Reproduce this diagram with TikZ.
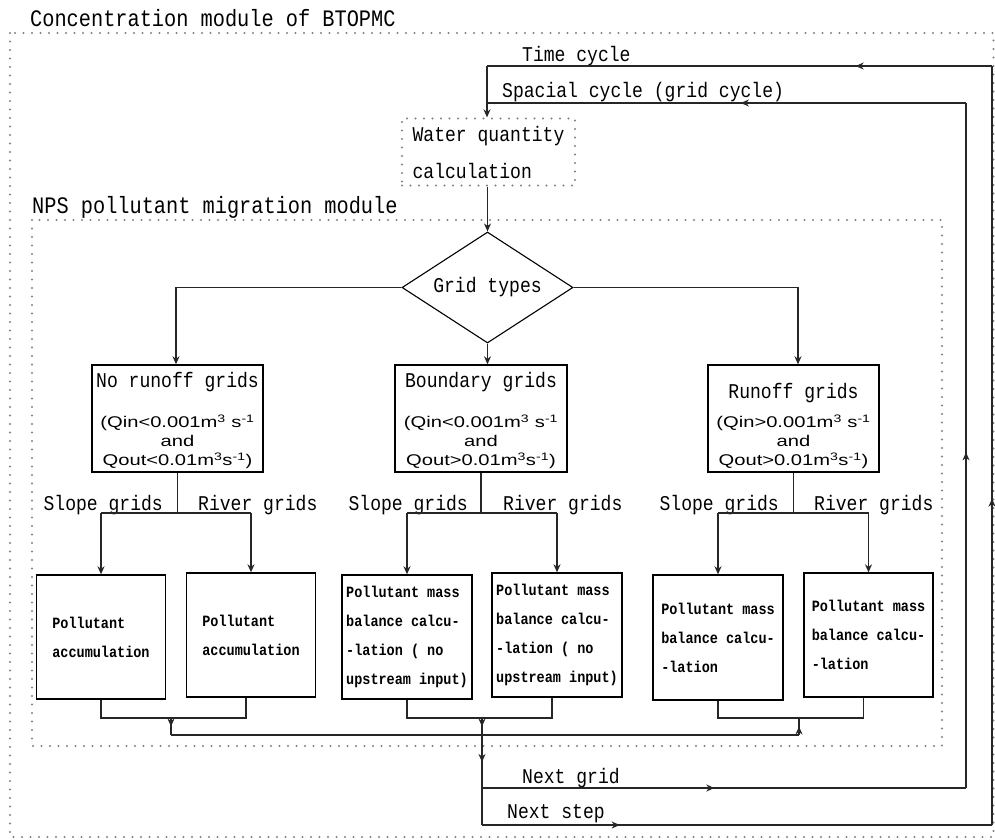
\documentclass[tikz,border=0pt]{standalone}
\usepackage{fontspec}
\newfontfamily\monof[FakeStretch=0.86]{Liberation Mono}
\newfontfamily\sansf[FakeStretch=1.3]{Liberation Sans}
\usepackage{tikz}
\usetikzlibrary{arrows.meta,shapes.geometric,decorations.markings}

\begin{document}
\begin{tikzpicture}[x=1pt,y=-1pt,>={Stealth[length=8pt,width=7pt,inset=2.5pt]},
  conn/.style={line width=1.3pt,draw=black!85},arr/.style={conn,->},
  midarr/.style={conn,postaction={decorate},decoration={markings,mark=at position #1 with {\arrow{>}}}},midarr/.default=0.5,
  dotbox/.style={draw=black!50,line width=2.3pt,dash pattern=on 0pt off 8.5pt,line cap=round},
  lbl/.style={font=\monof\fontsize{21}{21}\selectfont,inner sep=0pt},
  modlbl/.style={font=\monof\fontsize{23.6}{24}\selectfont,inner sep=0pt},
  gbox/.style={draw,line width=1.4pt,minimum width=171pt,minimum height=107pt,align=center,inner sep=2pt,font=\sansf\fontsize{15.5}{19}\selectfont},
  pbox/.style={draw,line width=1.4pt,minimum width=129pt,minimum height=124pt,align=left,inner sep=3pt,font=\monof\bfseries\fontsize{15.7}{29}\selectfont}]
\useasboundingbox (0,0) rectangle (995,839);
\draw[dotbox] (10,33) rectangle (993.5,837);
\draw[dotbox] (32,220) rectangle (942,746);
\node[modlbl,anchor=base west] (conctl) at (30,26) {Concentration module of BTOPMC};
\node[modlbl,anchor=base west] (npstl) at (32,213) {NPS pollutant migration module};
\node[lbl,anchor=base west] (timetl) at (522,61) {Time cycle};
\node[lbl,anchor=base west] (spactl) at (502,97) {Spacial cycle (grid cycle)};
\node[lbl,anchor=base west] (nxgrid) at (522,783) {Next grid};
\node[lbl,anchor=base west] (nxstep) at (507,818) {Next step};

\node[dotbox,minimum width=173pt,minimum height=67pt,align=left,inner sep=0pt,
  font=\monof\fontsize{21}{37}\selectfont] (water) at (488.5,152) {Water quantity\\calculation};
\node[diamond,draw,line width=1.1pt,aspect=1.54,minimum width=171pt,minimum height=111pt,inner sep=0pt,
  font=\monof\fontsize{21}{21}\selectfont] (gtype) at (487.5,287.5) {Grid types};

\node[gbox] (norun) at (177.5,418.5) {{\monof\fontsize{21}{21}\selectfont\rule{0pt}{19pt}No runoff grids}\\[21pt]
  (Qin<0.001m\textsuperscript{3} s\textsuperscript{-1}\\and\\Qout<0.01m\textsuperscript{3}s\textsuperscript{-1})};
\node[gbox,minimum width=172pt] (bound) at (481,418.5) {{\monof\fontsize{21}{21}\selectfont\rule{0pt}{19pt}Boundary grids}\\[21pt]
  (Qin<0.001m\textsuperscript{3} s\textsuperscript{-1}\\and\\Qout>0.01m\textsuperscript{3}s\textsuperscript{-1})};
\node[gbox] (runoff) at (793.5,418.5) {{\monof\fontsize{21}{21}\selectfont\rule{0pt}{30pt}Runoff grids}\\[10pt]
  (Qin>0.001m\textsuperscript{3} s\textsuperscript{-1}\\and\\Qout>0.01m\textsuperscript{3}s\textsuperscript{-1})};

\node[pbox] (p1a) at (101,637) {Pollutant\\accumulation};
\node[pbox] (p1b) at (251,635) {Pollutant\\accumulation};
\node[pbox,minimum width=130pt] (p2a) at (407,637) {Pollutant mass\\balance calcu-\\-lation ( no\\upstream input)};
\node[pbox,minimum width=130pt] (p2b) at (557,635) {Pollutant mass\\balance calcu-\\-lation ( no\\upstream input)};
\node[pbox,minimum width=130pt,minimum height=125pt] (p3a) at (718,637.5) {Pollutant mass\\balance calcu-\\-lation};
\node[pbox] (p3b) at (868.5,635) {Pollutant mass\\balance calcu-\\-lation};

\foreach \g/\x in {1/177,2/482,3/793} {
  \node[lbl,anchor=base east] (slope\g) at (\x-14,510) {Slope grids};
  \node[lbl,anchor=base west] (river\g) at (\x+21,510) {River grids};
}

\coordinate (brl) at (0,513);
\coordinate (tl) at (487,66);
\coordinate (tr) at (992,66);
\coordinate (sl) at (487,103);
\coordinate (sr) at (966,103);
\coordinate (gl) at (482,788);
\coordinate (gr) at (966,788);
\coordinate (nl) at (482,825);
\coordinate (nr) at (992,825);
\coordinate (m1) at (171,718);
\coordinate (c1) at (171,735);
\coordinate (m2) at (482,718);
\coordinate (c2) at (482,735);
\coordinate (m3) at (799,718);
\coordinate (c3) at (799,735);

\draw[arr] (gtype.north |- water.south) -- (gtype.north);
\draw[arr] (gtype.west) -| ([xshift=-1.5pt]norun.north);
\draw[arr] (gtype.south) -- (gtype.south |- bound.north);
\draw[arr] (gtype.east) -| ([xshift=4.5pt]runoff.north);

\foreach \g/\a/\b in {norun/p1a/p1b,bound/p2a/p2b,runoff/p3a/p3b} {
  \draw[conn] (\g.south) -- (\g.south |- brl);
  \draw[conn] (\a.north |- brl) -- (\b.north |- brl);
  \draw[arr] (\a.north |- brl) -- (\a.north);
  \draw[arr] (\b.north |- brl) -- (\b.north);
}
\foreach \a/\b/\m in {p1a/p1b/m1,p2a/p2b/m2,p3a/p3b/m3} {
  \draw[conn] (\a.south) -- (\a.south |- \m) -- ([xshift=-5pt]\b.south |- \m) -- ([xshift=-5pt]\b.south);
}

\draw[midarr] (m1) -- (c1);
\draw[midarr] (m2) -- (c2);
\draw[midarr] (c3) -- (m3);
\draw[conn] (c1) -- (c3);
\draw[midarr=0.3] (c2) -- (nl);
\draw[midarr=0.48] (gl) -- (gr);
\draw[midarr=0.27] (nl) -- (nr);
\draw[midarr=0.49] (gr) -- (sr);
\draw[midarr=0.43] (nr) -- (tr);
\draw[midarr=0.47] (sr) -- (sl);
\draw[midarr=0.27] (tr) -- (tl);
\draw[arr] (tl) -- (tl |- water.north);
\end{tikzpicture}
\end{document}
